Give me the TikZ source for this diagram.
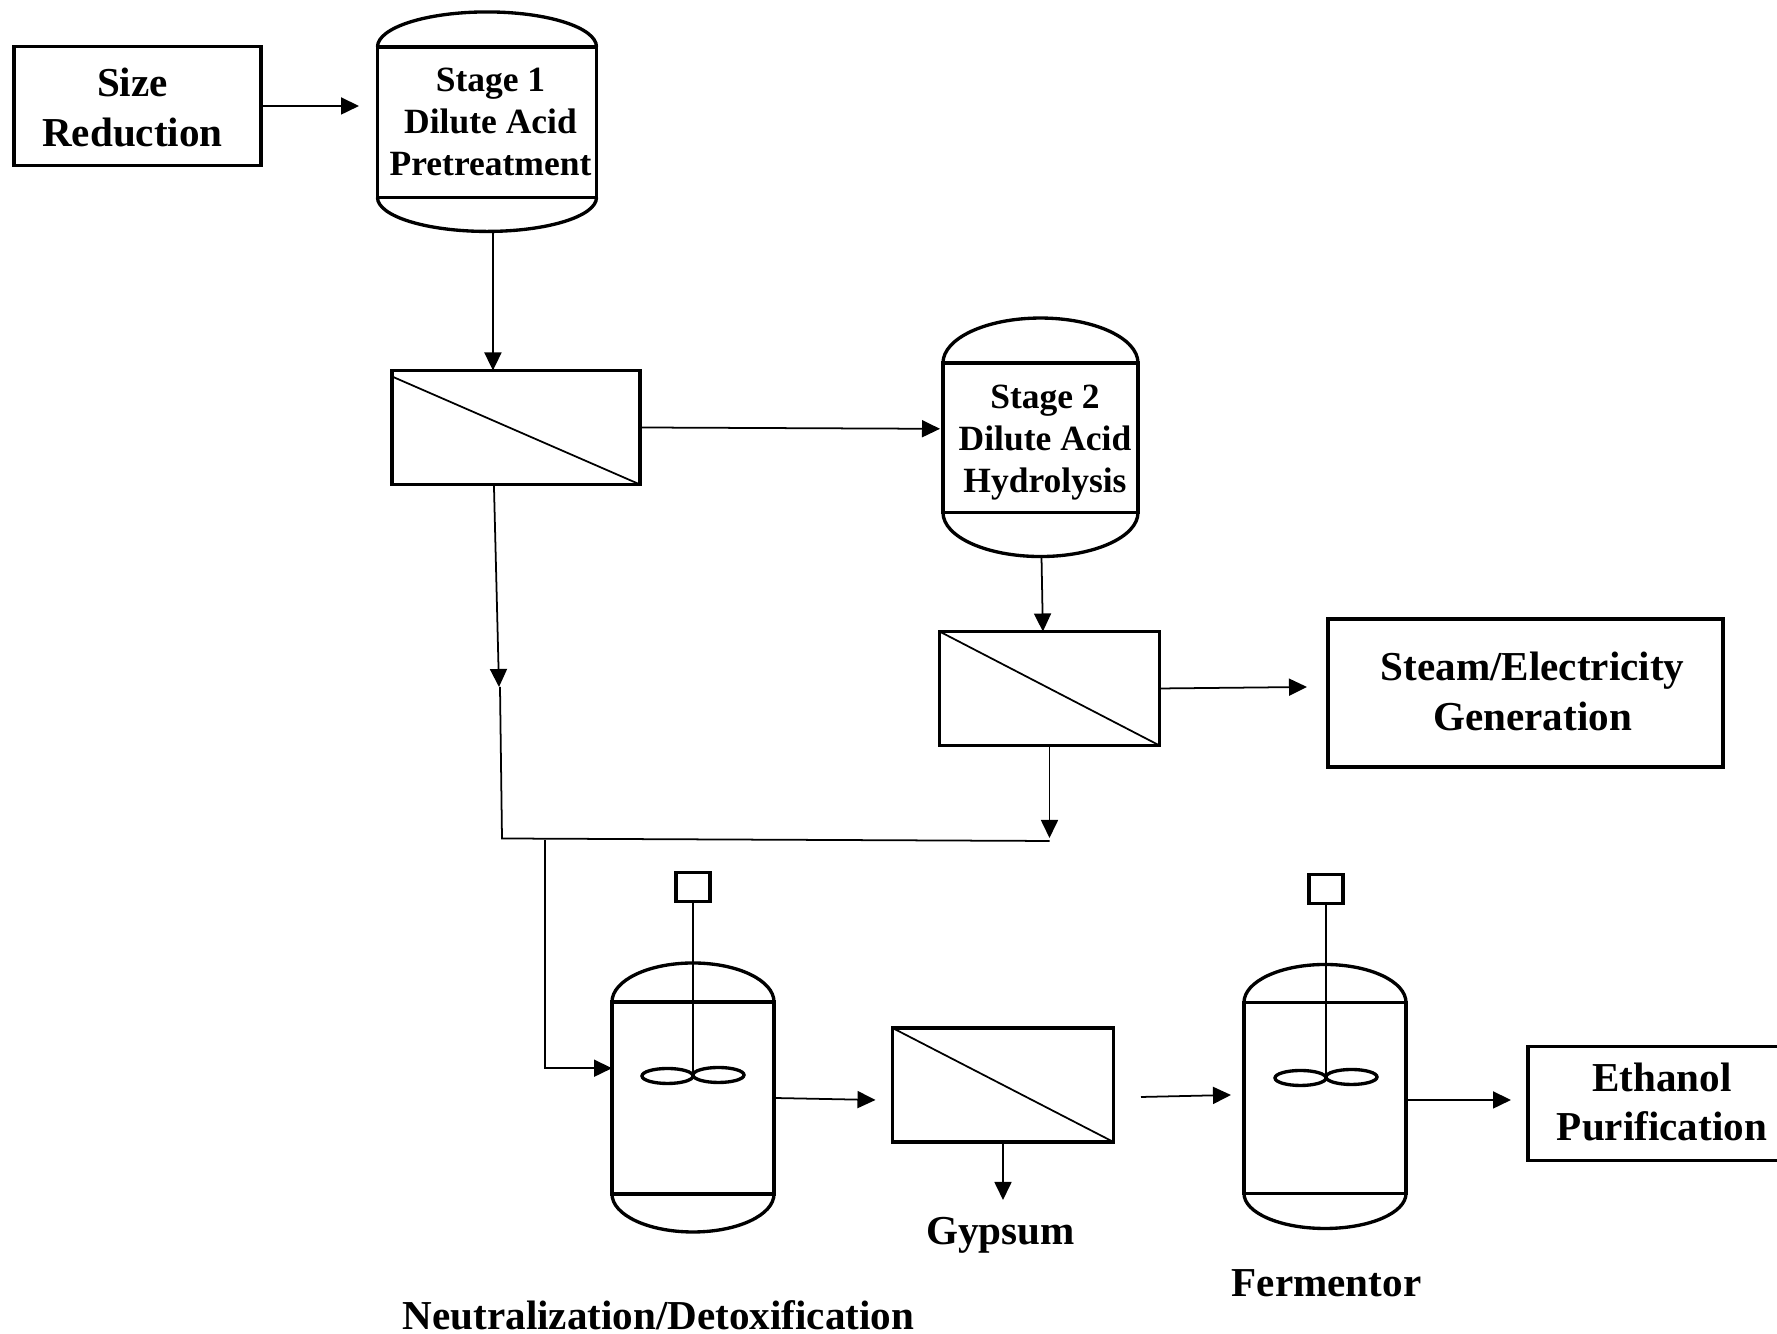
\documentclass[tikz,border=0pt]{standalone}
\usepackage{fontspec}
\setmainfont{Liberation Serif}
\usepackage{tikz}
\usetikzlibrary{calc}
\usetikzlibrary{arrows.meta}

\tikzset{
	unit/.style={draw,line width=0.95pt,rectangle,outer sep=0pt,inner sep=0pt,align=center,font=\fontsize{11.7}{14.2}\selectfont\bfseries},
	stagebox/.style={unit,font=\fontsize{10.1}{11.9}\selectfont\bfseries},
	tag/.style={font=\fontsize{11.7}{14.2}\selectfont\bfseries,inner sep=0pt},
	wall/.style={line width=0.95pt},
	flow/.style={line width=0.5pt,-{Triangle[length=0.18cm,width=0.17cm]}},
	pipe/.style={line width=0.5pt}
}

\begin{document}
\begin{tikzpicture}[scale=1]
	\useasboundingbox (0,0) rectangle (17.77,13.34);

	\node[unit,minimum width=2.47cm,minimum height=1.185cm] (size) at (1.375,12.28) {\rule{0pt}{9.2pt}\hspace*{-0.10cm}Size\\\hspace*{-0.10cm}Reduction};
	\node[stagebox,minimum width=2.19cm,minimum height=1.505cm] (stage1) at (4.87,12.118) {\hspace*{0.07cm}Stage 1\\\hspace*{0.07cm}Dilute Acid\\\hspace*{0.07cm}Pretreatment};
	\node[stagebox,minimum width=1.95cm,minimum height=1.495cm] (stage2) at (10.405,8.962) {\rule{0pt}{9.4pt}\hspace*{0.09cm}Stage 2\\\hspace*{0.09cm}Dilute Acid\\\hspace*{0.09cm}Hydrolysis};
	\node[unit,minimum width=2.48cm,minimum height=1.14cm] (filter1) at (5.16,9.065) {};
	\node[unit,minimum width=2.20cm,minimum height=1.14cm] (filter2) at (10.495,6.455) {};
	\node[unit,minimum width=2.21cm,minimum height=1.14cm] (filter3) at (10.03,2.49) {};
	\node[unit,minimum width=3.95cm,minimum height=1.48cm] (steam) at (15.255,6.41) {\hspace*{0.14cm}Steam/Electricity\\\hspace*{0.14cm}Generation\rule[-0.75pt]{0pt}{0pt}};
	\node[unit,minimum width=1.62cm,minimum height=1.92cm] (react) at (6.93,2.36) {};
	\node[unit,minimum width=1.62cm,minimum height=1.91cm] (ferm) at (13.25,2.36) {};
	\node[unit,minimum width=0.34cm,minimum height=0.29cm] (motor1) at (6.93,4.47) {};
	\node[unit,minimum width=0.34cm,minimum height=0.29cm] (motor2) at (13.26,4.45) {};
	\node[unit,minimum width=2.57cm,minimum height=1.14cm] (ethanol) at (16.565,2.305) {\hspace*{0.11cm}Ethanol\\\hspace*{0.11cm}Purification\rule[-1pt]{0pt}{0pt}};

	\node[tag] (gypsum) at (10.005,0.985) {Gypsum};
	\node[tag] (fermtxt) at (13.265,0.51) {Fermentor};
	\node[tag] (neutxt) at (6.585,0.19) {Neutralization/Detoxification};

	% vessel heads
	\foreach \v/\rx/\t/\b in {stage1/1.095/0.35/0.34,stage2/0.975/0.45/0.44,react/0.81/0.39/0.38,ferm/0.81/0.38/0.35}{
		\draw[wall] (\v.north west) arc[start angle=180,end angle=0,x radius=\rx,y radius=\t];
		\draw[wall] (\v.south west) arc[start angle=180,end angle=360,x radius=\rx,y radius=\b];
	}

	% filter diagonals
	\draw[pipe] ($(filter1.north west)+(0,-0.06)$)--(filter1.south east);
	\draw[pipe] (filter2.north west)--(filter2.south east);
	\draw[pipe] (filter3.north west)--(filter3.south east);

	% free ends and points on the boxes
	\coordinate(s1in) at (3.59,12.28);
	\coordinate(s1out) at ($(stage1.south)+(0.06,-0.34)$);
	\coordinate(f1in) at ($(filter1.north west)!0.407!(filter1.north east)$);
	\coordinate(f1out) at ($(filter1.south west)!0.411!(filter1.south east)$);
	\coordinate(s2in) at ($(stage2.north west)!0.44!(stage2.south west)+(-0.03,0)$);
	\coordinate(s2out) at ($(stage2.south)+(0.01,-0.44)$);
	\coordinate(f2in) at ($(filter2.north west)!0.47!(filter2.north east)$);
	\coordinate(steamin) at (13.07,6.47);
	\coordinate(joinr) at (10.495,4.93);
	\coordinate(dropend) at (10.495,4.96);
	\coordinate(midtip) at (4.99,6.47);
	\coordinate(midnext) at (5.00,6.47);
	\coordinate(joinl) at (5.02,4.955);
	\coordinate(branch) at (5.45,4.94);
	\coordinate(rin) at ($(react.north west)!0.345!(react.south west)$);
	\coordinate(rout) at (8.755,2.34);
	\coordinate(gypend) at (10.03,1.34);
	\coordinate(fstart) at (11.41,2.37);
	\coordinate(fend) at (12.31,2.39);
	\coordinate(fout) at ($(ferm.north east)!0.51!(ferm.south east)$);
	\coordinate(eend) at (15.11,2.34);
	\coordinate(imp1) at (6.93,2.58);
	\coordinate(imp2) at (13.26,2.56);

	\draw[flow] (size.east)--(s1in);
	\draw[flow] (s1out)--(f1in);
	\draw[flow] (filter1.east)--(s2in);
	\draw[flow] (s2out)--(f2in);
	\draw[flow] (filter2.east)--(steamin);
	\draw[flow] (filter2.south)--(dropend);
	\draw[flow] (f1out)--(midtip);
	\draw[pipe] (midnext)--(joinl)--(joinr);
	\draw[flow] (branch)|-(rin);
	\draw[flow] (react.east)--(rout);
	\draw[flow] (filter3.south)--(gypend);
	\draw[flow] (fstart)--(fend);
	\draw[flow] (fout)--(eend);

	% agitators
	\draw[pipe] (motor1.south)--(imp1);
	\draw[pipe] (motor2.south)--(imp2);
	\foreach \i in {imp1,imp2}{
		\draw[wall] ($(\i)+(-0.255,0)$) ellipse[x radius=0.255,y radius=0.075];
		\draw[wall] ($(\i)+(0.255,0.01)$) ellipse[x radius=0.255,y radius=0.075];
	}
\end{tikzpicture}
\end{document}
